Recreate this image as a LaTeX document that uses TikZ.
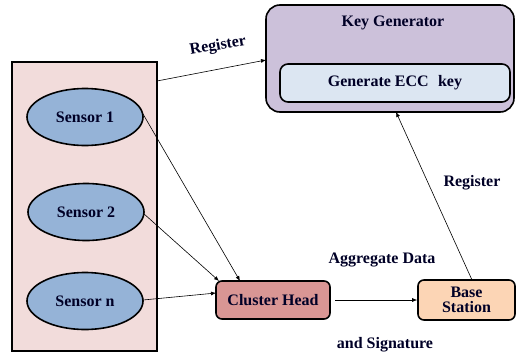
\documentclass[tikz,border=0pt]{standalone}
\usepackage{fontspec}
\setmainfont{Liberation Serif}
\usetikzlibrary{arrows.meta,shapes.geometric}
\definecolor{panel}{HTML}{F2DCDB}
\definecolor{sens}{HTML}{95B3D7}
\definecolor{chead}{HTML}{D99694}
\definecolor{bstat}{HTML}{FCD5B5}
\definecolor{kgen}{HTML}{CCC1DA}
\definecolor{kin}{HTML}{DCE6F2}
\tikzset{
  lbl/.style={font=\fontsize{16}{17}\selectfont\bfseries, text=black!85!blue},
  sensor/.style={ellipse, draw, line width=1.6pt, fill=sens, minimum width=116pt, minimum height=57pt, inner sep=0pt, lbl},
  rbox/.style={draw, line width=1.6pt, rounded corners=6pt, inner sep=0pt, lbl, align=center},
  arr/.style={-{Latex[length=5pt,width=4pt]}, line width=0.6pt}
}
\begin{document}
\begin{tikzpicture}[x=1pt,y=-1pt]
\useasboundingbox (0,0) rectangle (516,354);
\node[draw, line width=1.6pt, fill=panel, minimum width=145pt, minimum height=289pt, inner sep=0pt] (panel) at (84.5,206.5) {};
\node[sensor] (s1) at (85,117) {Sensor 1};
\node[sensor] (s2) at (86,212) {Sensor 2};
\node[sensor] (sn) at (85,301) {Sensor n};
\node[rbox, fill=chead, minimum width=114pt, minimum height=38pt] (ch) at (273,300) {Cluster Head};
\node[rbox, fill=bstat, minimum width=97pt, minimum height=40pt] (bs) at (466.5,300) {Base\\[-2pt]Station};
\node[rbox, fill=kgen, rounded corners=14pt, minimum width=248pt, minimum height=107pt] (kg) at (390,58.5) {};
\node[lbl] (kgt) at (393,23) {Key Generator};
\node[rbox, fill=kin, rounded corners=8pt, minimum width=230pt, minimum height=38pt] (ecc) at (395,83) {Generate ECC\,\, key};
\coordinate (pr) at (157,81);
\coordinate (kl) at (266,60);
\draw[arr] (pr) -- (kl);
\node[lbl, rotate=10] (reg1) at (218,46) {Register};
\coordinate (s1e) at (143,114);
\coordinate (s2e) at (143,213);
\coordinate (sne) at (143,300);
\coordinate (cht1) at (240,281);
\coordinate (cht2) at (219,281);
\coordinate (chl) at (216,293);
\draw[arr] (s1e) -- (cht1);
\draw[arr] (s2e) -- (cht2);
\draw[arr] (sne) -- (chl);
\coordinate (chr) at (335,300);
\draw[arr] (chr) -- (bs.west);
\coordinate (bst) at (472,280);
\coordinate (kgb) at (396,112);
\draw[arr] (bst) -- (kgb);
\node[lbl] (reg2) at (472,183) {Register};
\node[lbl] (agg) at (382,260) {Aggregate Data};
\node[lbl] (sig) at (385,345) {and Signature};
\end{tikzpicture}
\end{document}
